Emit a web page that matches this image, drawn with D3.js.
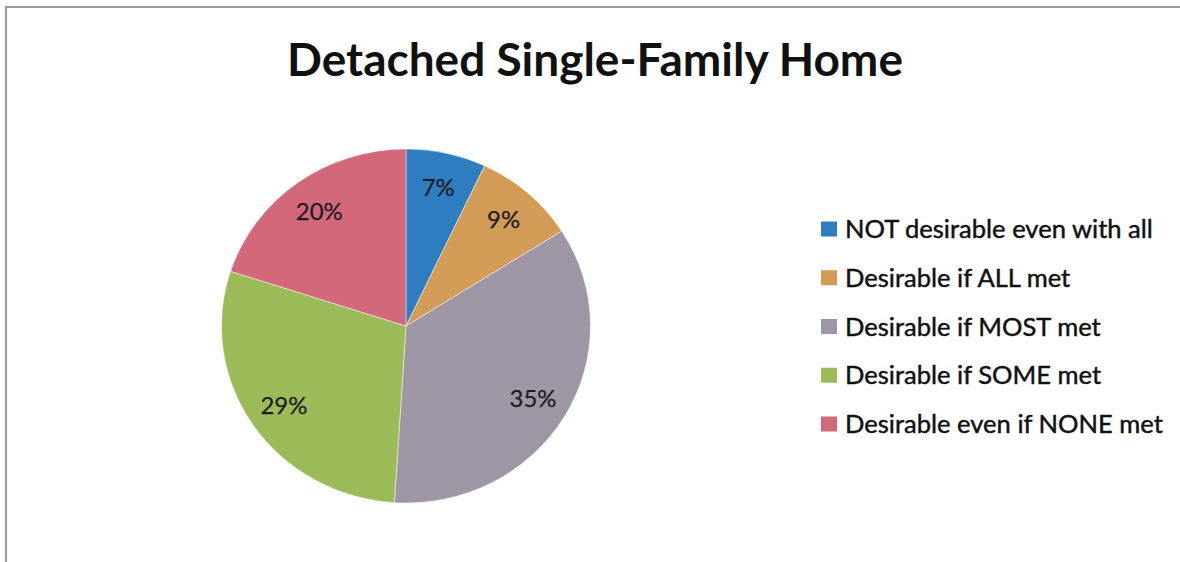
<!DOCTYPE html>
<html>
<head>
<meta charset="utf-8">
<script src="https://cdn.jsdelivr.net/npm/d3@7"></script>
<style>
  html, body { margin: 0; padding: 0; background: #fff; }
  svg { display: block; }
  text { font-family: Lato, "Open Sans", "Noto Sans", sans-serif; }
</style>
</head>
<body>
<svg id="chart" width="1180" height="562"></svg>
<script>
// Survey shares for detached single-family homes
const categories = [
  "NOT desirable even with all",
  "Desirable if ALL met",
  "Desirable if MOST met",
  "Desirable if SOME met",
  "Desirable even if NONE met"
];
const values = [7, 9, 35, 29, 20];
const sliceColors = ["#2f7dc1", "#d29b56", "#9e96a4", "#9bbb59", "#d4687b"];
const titleText = "Detached Single-Family Home";

const W = 1180, H = 562;
const svg = d3.select("#chart");

// Chart frame (top and left edges visible)
svg.append("path")
  .attr("d", `M6,${H} L6,7 L${W},7`)
  .attr("fill", "none")
  .attr("stroke", "#9a9a9a")
  .attr("stroke-width", 2);

// Title, sized to its slot width
const title = svg.append("text")
  .attr("x", 595).attr("y", 76)
  .attr("text-anchor", "middle")
  .attr("font-weight", "bold")
  .attr("font-size", 40)
  .attr("fill", "#111")
  .text(titleText);
const tw = title.node().getComputedTextLength();
title.attr("font-size", 40 * 616 / tw);

// Pie geometry (slightly wider than tall)
const cx = 406, cy = 326, rx = 184.5, ry = 177;
const pie = d3.pie().sort(null).value(d => d)(values);
const arc = d3.arc().innerRadius(0).outerRadius(1);

const pieG = svg.append("g")
  .attr("transform", `translate(${cx},${cy}) scale(${rx},${ry})`);
pieG.selectAll("path")
  .data(pie)
  .join("path")
  .attr("d", arc)
  .attr("fill", (d, i) => sliceColors[i])
  .attr("stroke", "rgba(255,255,255,0.45)")
  .attr("stroke-width", 1)
  .attr("vector-effect", "non-scaling-stroke");

// Percentage labels inside slices
const labelArc = d3.arc().innerRadius(0.8).outerRadius(0.8);
const fmt = v => `${v}%`;
const labels = svg.append("g").selectAll("text")
  .data(pie)
  .join("text")
  .attr("x", d => cx + labelArc.centroid(d)[0] * rx)
  .attr("y", d => cy + labelArc.centroid(d)[1] * ry)
  .attr("dy", "0.36em")
  .attr("text-anchor", "middle")
  .attr("font-size", 22)
  .attr("fill", "#1c1c24")
  .attr("stroke", "#1c1c24")
  .attr("stroke-width", 0.25)
  .text(d => fmt(d.data));
const lw = labels.filter((d, i) => i === 2).node().getComputedTextLength();
labels.attr("font-size", 22 * 47 / lw);

// Legend
const legendY = d3.scalePoint().domain(categories).range([229, 424]);
const legend = svg.append("g");
const rows = legend.selectAll("g")
  .data(categories)
  .join("g")
  .attr("transform", d => `translate(0,${legendY(d)})`);
rows.append("rect")
  .attr("x", 821).attr("y", -7.5)
  .attr("width", 16).attr("height", 15)
  .attr("fill", (d, i) => sliceColors[i]);
const ltext = rows.append("text")
  .attr("x", 845).attr("y", 0)
  .attr("dy", "0.36em")
  .attr("font-size", 24)
  .attr("fill", "#111")
  .attr("stroke", "#111")
  .attr("stroke-width", 0.45)
  .text(d => d);
const lw0 = ltext.filter((d, i) => i === 0).node().getComputedTextLength();
ltext.attr("font-size", 24 * 308 / lw0);
</script>
</body>
</html>
